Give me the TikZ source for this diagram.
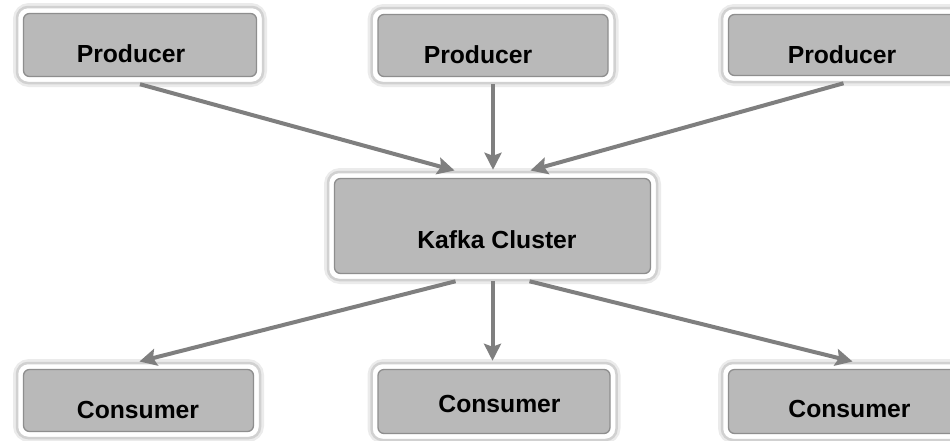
\documentclass[tikz,border=0pt]{standalone}
\usepackage{fontspec}
\setmainfont{Liberation Sans}
\usetikzlibrary{arrows.meta}
\definecolor{boxgray}{HTML}{B9B9B9}
\definecolor{edgegray}{HTML}{8E8E8E}
\definecolor{arrowgray}{HTML}{7F7F7F}
\tikzset{
  outerbox/.style={draw=black!18, line width=2.5pt, fill=white, rounded corners=11pt, inner sep=0pt},
  halo/.style={draw=black!8, line width=6pt, rounded corners=13pt, inner sep=0pt},
  innerbox/.style={draw=edgegray, line width=1.3pt, fill=boxgray, rounded corners=6pt, inner sep=0pt},
  lbl/.style={anchor=base, inner sep=0pt, font=\fontsize{24.7}{28}\selectfont\bfseries},
  flow/.style={draw=arrowgray, line width=4pt, -{Stealth[length=17pt,width=17pt,inset=3pt]}, shorten >=1pt}
}
\begin{document}
\begin{tikzpicture}[x=1pt,y=-1pt]
\useasboundingbox (0,0) rectangle (950,440);
% halos (soft shadow)
\foreach \cx/\cy/\w/\h in {140/45/246/76, 493/45.5/243/75, 843.5/45/243/74, 492.5/226/329/108, 138.5/400.5/243/75, 494/401.5/245/77, 843.5/401.5/243/77}{
  \node[halo, minimum width=\w+2, minimum height=\h+2] at (\cx,\cy) {};
}
% outer boxes
\node[outerbox, minimum width=246, minimum height=76] (p1) at (140,45) {};
\node[outerbox, minimum width=243, minimum height=75] (p2) at (493,45.5) {};
\node[outerbox, minimum width=243, minimum height=74] (p3) at (843.5,45) {};
\node[outerbox, minimum width=329, minimum height=108] (k) at (492.5,226) {};
\node[outerbox, minimum width=243, minimum height=75] (c1) at (138.5,400.5) {};
\node[outerbox, minimum width=245, minimum height=77] (c2) at (494,401.5) {};
\node[outerbox, minimum width=243, minimum height=77] (c3) at (843.5,401.5) {};
% inner boxes
\node[innerbox, minimum width=233, minimum height=63] (p1i) at (p1) {};
\node[innerbox, minimum width=230, minimum height=62] (p2i) at (p2) {};
\node[innerbox, minimum width=230, minimum height=61] (p3i) at (p3) {};
\node[innerbox, minimum width=316, minimum height=95] (ki) at (k) {};
\node[innerbox, minimum width=230, minimum height=62] (c1i) at (c1) {};
\node[innerbox, minimum width=232, minimum height=64] (c2i) at (c2) {};
\node[innerbox, minimum width=230, minimum height=64] (c3i) at (c3) {};
% labels
\node[lbl] (p1t) at (131,62) {Producer};
\node[lbl] (p2t) at (478,63) {Producer};
\node[lbl] (p3t) at (842,63) {Producer};
\node[lbl] (kt) at (497,248) {Kafka Cluster};
\node[lbl] (c1t) at (138,418) {Consumer};
\node[lbl] (c2t) at (499.5,412) {Consumer};
\node[lbl] (c3t) at (849.5,417) {Consumer};
% connectors
\draw[flow] (p1.south) -- ([xshift=-37]k.north);
\draw[flow] (p2.south) -- (p2.south |- k.north);
\draw[flow] (p3.south) -- ([xshift=37]k.north);
\draw[flow] ([xshift=-37]k.south) -- (c1.north);
\draw[flow] (k.south) -- (k.south |- c2.north);
\draw[flow] ([xshift=37]k.south) -- ([xshift=10]c3.north);
\end{tikzpicture}
\end{document}
